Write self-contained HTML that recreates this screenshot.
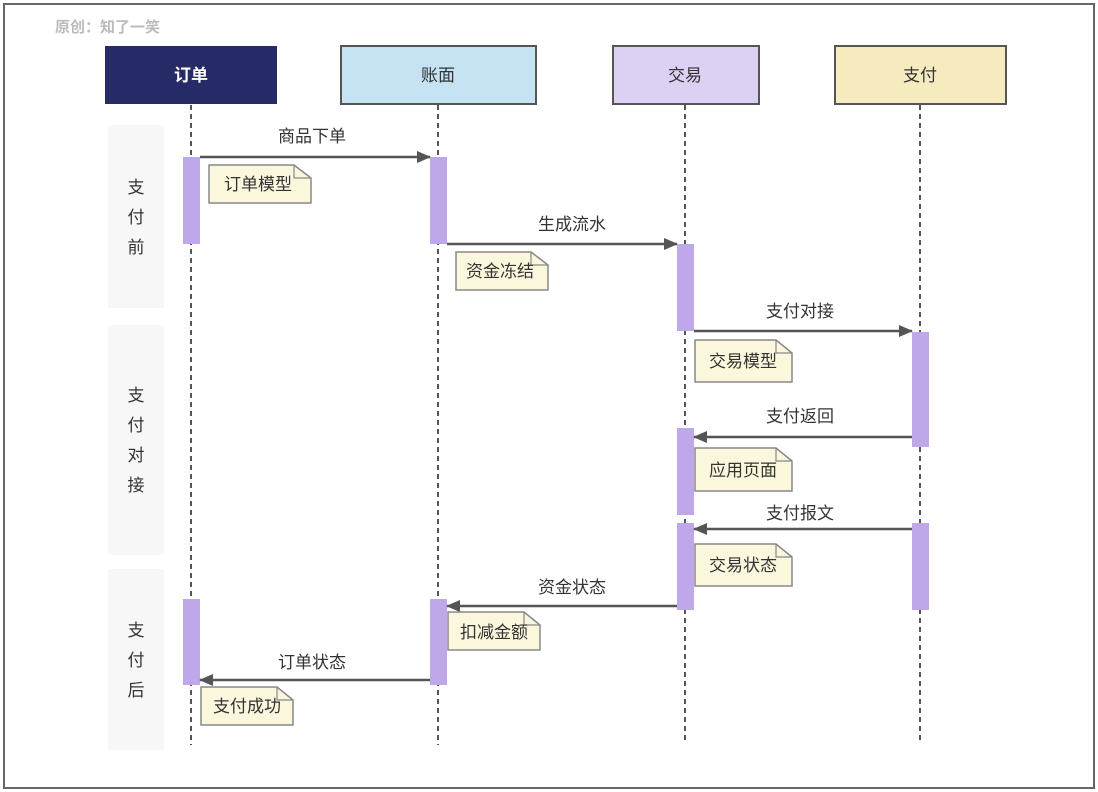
<!DOCTYPE html>
<html><head><meta charset="utf-8"><style>
html,body{margin:0;padding:0;background:#fff;}
svg{display:block;}
text{font-family:"Liberation Sans","Noto Sans CJK SC",sans-serif;}
</style></head><body>
<svg width="1098" height="792" viewBox="0 0 1098 792" xmlns="http://www.w3.org/2000/svg">
<defs>
<marker id="ah" markerWidth="14" markerHeight="12" refX="13" refY="6" orient="auto" markerUnits="userSpaceOnUse">
<path d="M0,0 L14,6 L0,12 Z" fill="#555"/></marker>
</defs>
<rect x="4" y="4" width="1090" height="784" fill="#fff" stroke="#666" stroke-width="2"/>
<text x="55" y="32" font-size="15" font-weight="bold" fill="#bbb">原创：知了一笑</text>

<rect x="108" y="125" width="56" height="183" fill="#f7f7f7"/>
<rect x="108" y="325" width="56" height="230" fill="#f7f7f7"/>
<rect x="108" y="569" width="56" height="181" fill="#f7f7f7"/>
<g font-size="17" fill="#333" text-anchor="middle">
<text x="136" y="193">支</text><text x="136" y="223">付</text><text x="136" y="253">前</text>
<text x="136" y="401">支</text><text x="136" y="431">付</text><text x="136" y="461">对</text><text x="136" y="491">接</text>
<text x="136" y="636">支</text><text x="136" y="666">付</text><text x="136" y="696">后</text>
</g>

<rect x="105" y="46" width="172" height="58" fill="#262a66"/>
<text x="191" y="81" font-size="17" font-weight="bold" fill="#fff" text-anchor="middle">订单</text>
<rect x="341" y="46" width="195" height="58" fill="#c5e3f3" stroke="#555" stroke-width="2"/>
<text x="438" y="81" font-size="17" fill="#333" text-anchor="middle">账面</text>
<rect x="613" y="46" width="146" height="58" fill="#dcd0f3" stroke="#555" stroke-width="2"/>
<text x="685" y="81" font-size="17" fill="#333" text-anchor="middle">交易</text>
<rect x="835" y="46" width="171" height="58" fill="#f6eabf" stroke="#555" stroke-width="2"/>
<text x="920" y="81" font-size="17" fill="#333" text-anchor="middle">支付</text>

<g stroke="#555" stroke-width="2" stroke-dasharray="5,4">
<line x1="191" y1="105" x2="191" y2="745"/>
<line x1="438" y1="105" x2="438" y2="745"/>
<line x1="685" y1="105" x2="685" y2="740"/>
<line x1="920" y1="105" x2="920" y2="740"/>
</g>

<g fill="#bfa8ea">
<rect x="183" y="157" width="17" height="87"/>
<rect x="183" y="599" width="17" height="86"/>
<rect x="430" y="157" width="17" height="87"/>
<rect x="430" y="599" width="17" height="86"/>
<rect x="677" y="244" width="17" height="87"/>
<rect x="677" y="428" width="17" height="87"/>
<rect x="677" y="523" width="17" height="87"/>
<rect x="912" y="332" width="17" height="115"/>
<rect x="912" y="523" width="17" height="87"/>
</g>

<g stroke="#555" stroke-width="2.5" marker-end="url(#ah)">
<line x1="200" y1="157" x2="430" y2="157"/>
<line x1="447" y1="244" x2="677" y2="244"/>
<line x1="694" y1="331" x2="912" y2="331"/>
<line x1="912" y1="437" x2="694" y2="437"/>
<line x1="912" y1="529" x2="694" y2="529"/>
<line x1="677" y1="606" x2="447" y2="606"/>
<line x1="430" y1="680" x2="200" y2="680"/>
</g>
<g font-size="17" fill="#333" text-anchor="middle">
<text x="312" y="142">商品下单</text>
<text x="572" y="230">生成流水</text>
<text x="800" y="317">支付对接</text>
<text x="800" y="422">支付返回</text>
<text x="800" y="519">支付报文</text>
<text x="572" y="593">资金状态</text>
<text x="312" y="668">订单状态</text>
</g>

<g fill="#fbf7dc" stroke="#888" stroke-width="1.5">
<path d="M209,165 H294 L311,178 V203 H209 Z"/>
<path d="M456,252 H531 L548,265 V290 H456 Z"/>
<path d="M695,340 H776 L792,353 V382 H695 Z"/>
<path d="M695,448 H776 L792,461 V491 H695 Z"/>
<path d="M695,544 H776 L792,557 V586 H695 Z"/>
<path d="M448,612 H524 L540,625 V650 H448 Z"/>
<path d="M201,687 H277 L293,700 V725 H201 Z"/>
</g>
<g fill="none" stroke="#888" stroke-width="1.2">
<path d="M294,165 V178 H311"/><path d="M531,252 V265 H548"/>
<path d="M776,340 V353 H792"/><path d="M776,448 V461 H792"/>
<path d="M776,544 V557 H792"/><path d="M524,612 V625 H540"/>
<path d="M277,687 V700 H293"/>
</g>
<g font-size="17" fill="#333">
<text x="224" y="190">订单模型</text>
<text x="466" y="277">资金冻结</text>
<text x="709" y="367">交易模型</text>
<text x="709" y="476">应用页面</text>
<text x="709" y="571">交易状态</text>
<text x="460" y="638">扣减金额</text>
<text x="213" y="712">支付成功</text>
</g>
</svg>
</body></html>
